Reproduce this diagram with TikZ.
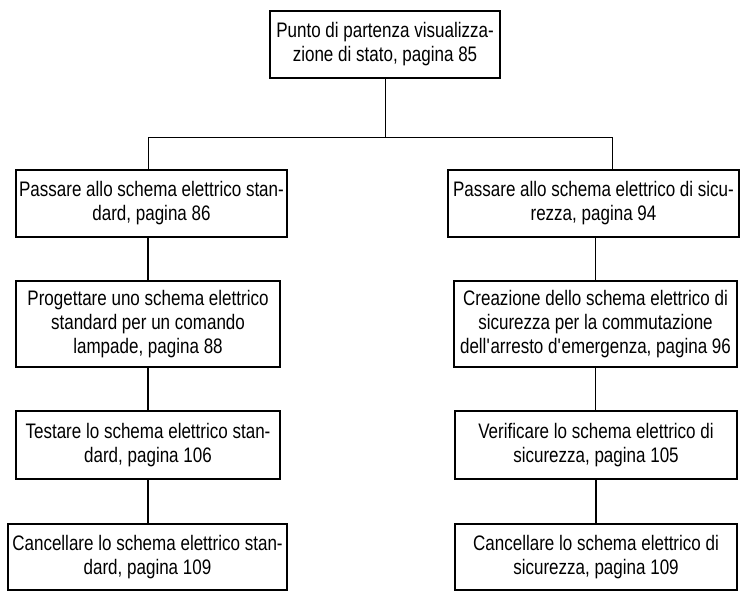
\documentclass[tikz,border=0pt]{standalone}
\usepackage{fontspec}
\setmainfont[FakeStretch=0.81]{Liberation Sans}
\usepackage{tikz}

\tikzset{
  stepbox/.style={draw, line width=2.4pt, align=center, inner sep=1pt,
    font=\fontsize{21}{24}\selectfont},
  link/.style={line width=1.8pt},
  bus/.style={line width=1pt}
}

\begin{document}
\begin{tikzpicture}[x=1pt, y=-1pt]
		\useasboundingbox (0,0) rectangle (740,592);

		\node[stepbox, minimum width=230, minimum height=67] (start) at (385,44.5) {Punto di partenza visualizza-\\zione di stato, pagina 85};

		\node[stepbox, minimum width=271, minimum height=67] (left1) at (151.5,203.5) {Passare allo schema elettrico stan-\\dard, pagina 86};
		\node[stepbox, minimum width=264, minimum height=86] (left2) at (148,324) {Progettare uno schema elettrico\\standard per un comando\\lampade, pagina 88};
		\node[stepbox, minimum width=264, minimum height=68] (left3) at (148,445) {Testare lo schema elettrico stan-\\dard, pagina 106};
		\node[stepbox, minimum width=279, minimum height=66] (left4) at (147.5,557) {Cancellare lo schema elettrico stan-\\dard, pagina 109};

		\node[stepbox, minimum width=291, minimum height=67] (right1) at (593.5,203.5) {Passare allo schema elettrico di sicu-\\rezza, pagina 94};
		\node[stepbox, minimum width=283, minimum height=86] (right2) at (595.5,324) {Creazione dello schema elettrico di\\sicurezza per la commutazione\\dell\textquotesingle arresto d\textquotesingle emergenza, pagina 96};
		\node[stepbox, minimum width=282, minimum height=68] (right3) at (596,445) {Verificare lo schema elettrico di\\sicurezza, pagina 105};
		\node[stepbox, minimum width=282, minimum height=66] (right4) at (596,557) {Cancellare lo schema elettrico di\\sicurezza, pagina 109};

		\coordinate (busL) at (148,137);
		\coordinate (busR) at (612,137);

		\draw[bus] (start.south) -- (start.south |- busL);
		\draw[bus] (busL) -- (busR);
		\draw[bus] (busL) -- (busL |- left1.north);
		\draw[bus] (busR) -- (busR |- right1.north);

		\draw[link] (left2.north |- left1.south) -- (left2.north);
		\draw[link] (left2.south) -- (left3.north);
		\draw[link] (left3.south) -- (left3.south |- left4.north);
		\draw[link] (right2.north |- right1.south) -- (right2.north);
		\draw[link] (right2.south) -- (right2.south |- right3.north);
		\draw[link] (right3.south) -- (right4.north);
	\end{tikzpicture}
\end{document}
